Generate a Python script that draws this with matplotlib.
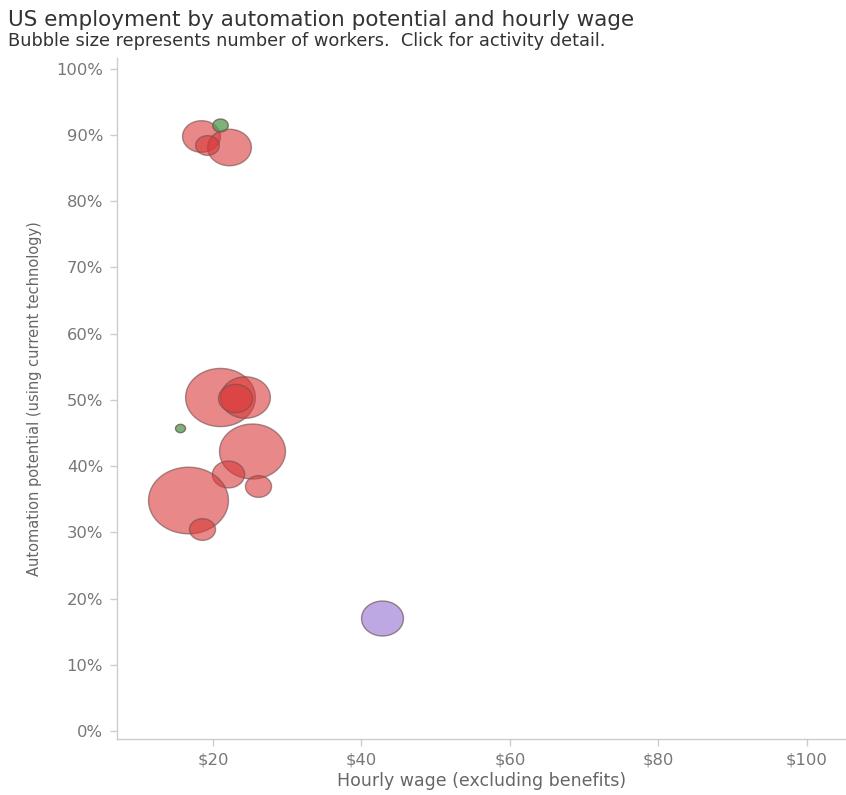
"""
US employment by automation potential and hourly wage - bubble chart
"""
import numpy as np
import matplotlib
matplotlib.use('Agg')
import matplotlib.pyplot as plt
from matplotlib.path import Path

matplotlib.rcParams['font.family'] = ['DejaVu Sans']

# 数据 (从图中估计)
wage = [18.4, 22.2, 19.2, 20.9, 20.9, 24.3, 23.0, 15.5, 25.3, 22.0, 26.1, 16.6, 18.5, 42.8]
automation = [89.9, 88.2, 88.4, 91.5, 50.4, 50.4, 50.3, 45.8, 42.3, 38.8, 37.0, 34.9, 30.5, 17.1]
workers_m = [3.6, 4.8, 1.4, 0.6, 12.2, 6.2, 2.9, 0.25, 10.9, 2.6, 1.7, 16.0, 1.7, 4.4]
group = ['red', 'red', 'red', 'green', 'red', 'red', 'red', 'green',
         'red', 'red', 'red', 'red', 'red', 'purple']

fills = {'red': '#d93939', 'green': '#4f9a4f', 'purple': '#9c7ad6'}
alphas = {'red': 0.6, 'green': 0.75, 'purple': 0.65}

x_ticks = [20, 40, 60, 80, 100]
x_tick_labels = ['$20', '$40', '$60', '$80', '$100']
y_ticks = list(range(0, 101, 10))
y_tick_labels = [f'{v}%' for v in y_ticks]

# 椭圆标记 (原图水平方向略拉伸)
t = np.linspace(0, 2 * np.pi, 100)
verts = np.column_stack([1.2 * np.cos(t), np.sin(t)])
ellipse = Path(verts, closed=True)

fig = plt.figure(figsize=(8.46, 7.95), dpi=100)
ax = fig.add_axes([0.1383, 0.0704, 0.8607, 0.8566])

for x, y, w, g in zip(wage, automation, workers_m, group):
    ax.scatter([x], [y], s=w * 207, marker=ellipse, color=fills[g],
               alpha=alphas[g], edgecolors='#704e4e', linewidths=1.0, zorder=3)

ax.set_xlim(7.05, 105.2)
ax.set_ylim(-1.2, 101.6)
ax.set_xticks(x_ticks)
ax.set_xticklabels(x_tick_labels)
ax.set_yticks(y_ticks)
ax.set_yticklabels(y_tick_labels)

for side in ['top', 'right']:
    ax.spines[side].set_visible(False)
for side in ['left', 'bottom']:
    ax.spines[side].set_color('#cccccc')
    ax.spines[side].set_linewidth(1.0)
ax.tick_params(axis='both', colors='#cccccc', labelcolor='#777777',
               labelsize=11.8, length=5, width=1.0, pad=5)
ax.tick_params(axis='x', pad=5)

ax.set_xlabel('Hourly wage (excluding benefits)', fontsize=12.5, color='#666666', labelpad=3)
ax.set_ylabel('Automation potential (using current technology)', fontsize=10.5,
              color='#666666', labelpad=10)

fig.text(0.009, 0.975, 'US employment by automation potential and hourly wage',
         fontsize=15.5, color='#333333', va='center', ha='left')
fig.text(0.009, 0.949, 'Bubble size represents number of workers.  Click for activity detail.',
         fontsize=12.8, color='#333333', va='center', ha='left')

plt.savefig('out.png', dpi=100)
